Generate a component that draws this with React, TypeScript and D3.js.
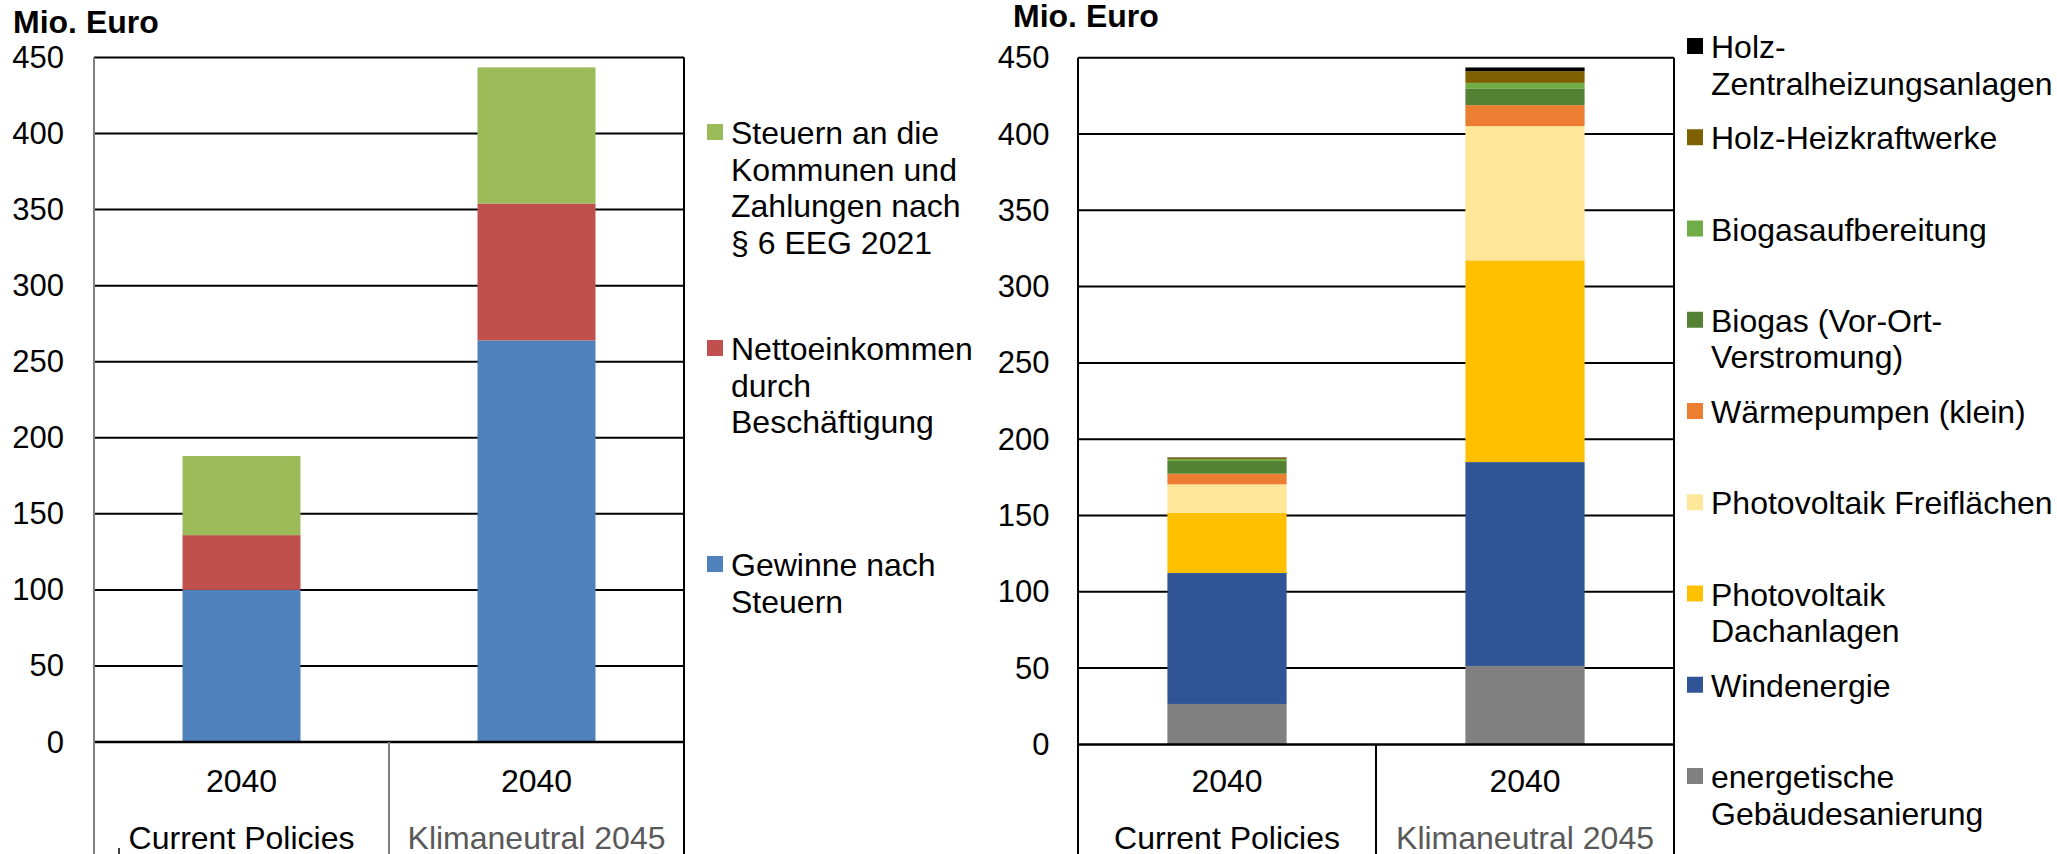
import React from "react";
import * as d3 from "d3";

const scenarios = ["Current Policies", "Klimaneutral 2045"];
const years = ["2040", "2040"];
const yTicks = [0, 50, 100, 150, 200, 250, 300, 350, 400, 450];
const unitLabel = "Mio. Euro";

// Left chart (stack order bottom -> top)
const leftSeries = ["Gewinne nach Steuern", "Nettoeinkommen durch Beschäftigung", "Steuern an die Kommunen und Zahlungen nach § 6 EEG 2021"];
const leftColors = ["#4F81BD", "#C0504D", "#9BBB59"];
const leftGewinne = [100, 264];
const leftNetto = [36, 90];
const leftSteuern = [52, 89.5];
const leftLegendLines = [
  ["Steuern an die", "Kommunen und", "Zahlungen nach", "§ 6 EEG 2021"],
  ["Nettoeinkommen", "durch", "Beschäftigung"],
  ["Gewinne nach", "Steuern"],
];
const leftLegendColors = ["#9BBB59", "#C0504D", "#4F81BD"];

// Right chart (stack order bottom -> top)
const rightSeries = [
  "energetische Gebäudesanierung",
  "Windenergie",
  "Photovoltaik Dachanlagen",
  "Photovoltaik Freiflächen",
  "Wärmepumpen (klein)",
  "Biogas (Vor-Ort-Verstromung)",
  "Biogasaufbereitung",
  "Holz-Heizkraftwerke",
  "Holz-Zentralheizungsanlagen",
];
const rightColors = ["#808080", "#2F5597", "#FFC000", "#FFE699", "#ED7D31", "#548235", "#70AD47", "#7F6000", "#000000"];
const gebaeude = [26.5, 51.4];
const wind = [85.8, 133.6];
const pvDach = [39.5, 132.2];
const pvFrei = [18.6, 88];
const waermepumpen = [7, 13.7];
const biogas = [8.3, 10.7];
const biogasAufb = [1.3, 3.9];
const holzHKW = [0.9, 7.7];
const holzZH = [0.2, 2.4];
const rightLegendLines = [
  ["Holz-", "Zentralheizungsanlagen"],
  ["Holz-Heizkraftwerke"],
  ["Biogasaufbereitung"],
  ["Biogas (Vor-Ort-", "Verstromung)"],
  ["Wärmepumpen (klein)"],
  ["Photovoltaik Freiflächen"],
  ["Photovoltaik", "Dachanlagen"],
  ["Windenergie"],
  ["energetische", "Gebäudesanierung"],
];
const rightLegendColors = ["#000000", "#7F6000", "#70AD47", "#548235", "#ED7D31", "#FFE699", "#FFC000", "#2F5597", "#808080"];

const FONT = "'Liberation Sans', Arial, sans-serif";
const FS = 32;
const FS_TICK = 31;
const H = 854;

type PanelProps = {
  x0: number; x1: number; yTop: number; yZero: number;
  labelX: number; titleX: number; titleY: number;
  series: string[]; colors: string[]; values: number[][];
  frameColor: string; leftAxisColor: string;
};

function Panel(p: PanelProps) {
  const x = d3.scaleBand<string>().domain(scenarios).range([p.x0, p.x1]).padding(0);
  const y = d3.scaleLinear().domain([0, 450]).range([p.yZero, p.yTop]);
  const rows = scenarios.map((s, i) => {
    const r: any = { scenario: s };
    p.series.forEach((k, j) => (r[k] = p.values[j][i]));
    return r;
  });
  const stacked = d3.stack<any>().keys(p.series)(rows);
  const bw = x.bandwidth();
  return (
    <g>
      <text x={p.titleX} y={p.titleY} fontFamily={FONT} fontSize={FS} fontWeight="bold">{unitLabel}</text>
      {yTicks.map((t) => (
        <g key={t}>
          {t > 0 && t < 450 && (
            <line x1={p.x0} x2={p.x1} y1={y(t)} y2={y(t)} stroke="#000" strokeWidth={2} />
          )}
          <text x={p.labelX} y={y(t)} textAnchor="end" dominantBaseline="central" fontFamily={FONT} fontSize={FS_TICK}>{t}</text>
        </g>
      ))}
      {stacked.map((layer, j) => (
        <g key={p.series[j]} fill={p.colors[j]}>
          {layer.map((d, i) => (
            <rect key={i} x={(x(scenarios[i]) as number) + bw * 0.3} width={bw * 0.4} y={y(d[1])} height={Math.max(0, y(d[0]) - y(d[1]))} />
          ))}
        </g>
      ))}
      <line x1={p.x0} x2={p.x1} y1={y(450)} y2={y(450)} stroke="#000" strokeWidth={2} />
      <line x1={p.x0} x2={p.x1} y1={y(0)} y2={y(0)} stroke="#000" strokeWidth={2.5} />
      <line x1={p.x0} x2={p.x0} y1={y(450)} y2={H} stroke={p.leftAxisColor} strokeWidth={2} />
      <line x1={p.x1} x2={p.x1} y1={y(450)} y2={H} stroke={p.frameColor} strokeWidth={2} />
      <line x1={p.x0 + bw} x2={p.x0 + bw} y1={y(0)} y2={H} stroke={p.leftAxisColor} strokeWidth={2} />
      {scenarios.map((s, i) => {
        const cx = (x(s) as number) + bw / 2;
        return (
          <g key={s}>
            <text x={cx} y={781} textAnchor="middle" dominantBaseline="central" fontFamily={FONT} fontSize={FS}>{years[i]}</text>
            <text x={cx} y={838} textAnchor="middle" dominantBaseline="central" fontFamily={FONT} fontSize={FS} fill={i === 1 ? "#595959" : "#000"}>{s}</text>
          </g>
        );
      })}
    </g>
  );
}

function Legend({ lines, colors, x, y0, step, lineH }: { lines: string[][]; colors: string[]; x: number; y0: number; step: number; lineH: number }) {
  return (
    <g>
      {lines.map((ls, i) => {
        const cy = y0 + i * step;
        return (
          <g key={i}>
            <rect x={x} y={cy - 9} width={16} height={16} fill={colors[i]} />
            {ls.map((t, k) => (
              <text key={k} x={x + 24} y={cy + k * lineH} dominantBaseline="central" fontFamily={FONT} fontSize={FS}>{t}</text>
            ))}
          </g>
        );
      })}
    </g>
  );
}

export default function App() {
  return (
    <svg width={2057} height={854} style={{ position: "absolute", left: 0, top: 0, background: "#fff" }}>
      <rect width={2057} height={854} fill="#fff" />
      <Panel x0={94} x1={684} yTop={57.5} yZero={742} labelX={64} titleX={13} titleY={33}
        series={leftSeries} colors={leftColors} values={[leftGewinne, leftNetto, leftSteuern]}
        frameColor="#000" leftAxisColor="#808080" />
      <Legend lines={leftLegendLines} colors={leftLegendColors} x={707} y0={133} step={216} lineH={36.5} />
      <Panel x0={1078} x1={1674} yTop={57.7} yZero={744.4} labelX={1049.6} titleX={1013} titleY={27}
        series={rightSeries} colors={rightColors}
        values={[gebaeude, wind, pvDach, pvFrei, waermepumpen, biogas, biogasAufb, holzHKW, holzZH]}
        frameColor="#000" leftAxisColor="#000" />
      <Legend lines={rightLegendLines} colors={rightLegendColors} x={1687} y0={47} step={91.25} lineH={36.6} />
      <line x1={119} x2={119} y1={848} y2={854} stroke="#000" strokeWidth={1.5} />
    </svg>
  );
}
